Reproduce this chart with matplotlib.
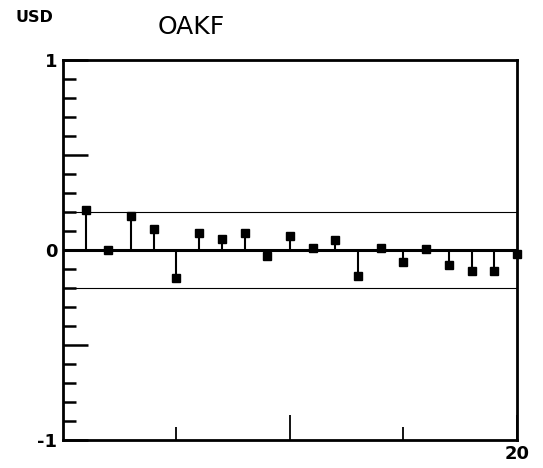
import numpy as np
import matplotlib
matplotlib.use("Agg")
from matplotlib import pyplot as plt

# autocorrelation at lags 1..20
lags = list(range(1, 21))
acf = [0.21, 0.0, 0.18, 0.11, -0.15, 0.09, 0.06, 0.09, -0.03, 0.075,
       0.01, 0.05, -0.135, 0.01, -0.065, 0.005, -0.08, -0.11, -0.11, -0.02]
band = 0.2
title = "OAKF"
corner_label = "USD"


def draw_acf(save_path):
    fig = plt.figure(figsize=(5.43, 4.68), dpi=100)
    ax = fig.add_axes([0.116, 0.060, 0.836, 0.812])

    ax.axhline(band, color="black", lw=0.8, zorder=1)
    ax.axhline(-band, color="black", lw=0.8, zorder=1)
    ax.axhline(0, color="black", lw=2.2, zorder=2)
    ax.vlines(lags, 0, acf, color="black", lw=1.5, zorder=3)
    ax.plot(lags, acf, "s", color="black", ms=6, zorder=4, clip_on=False)

    ax.set_xlim(0, 20)
    ax.set_ylim(-1, 1)

    ax.set_yticks([-1, -0.5, 0, 0.5, 1])
    ax.set_yticklabels(["-1", "", "0", "", "1"], fontweight="bold", fontsize=13)
    ax.set_yticks([v / 10 for v in range(-9, 10) if v not in (-5, 0, 5)], minor=True)
    ax.tick_params(axis="y", which="major", direction="in", length=18, width=1.8, pad=4)
    ax.tick_params(axis="y", which="minor", direction="in", length=9.5, width=1.8)

    ax.set_xticks([10, 20])
    ax.set_xticklabels(["", "20"], fontweight="bold", fontsize=13)
    ax.set_xticks([5, 15], minor=True)
    ax.tick_params(axis="x", which="major", direction="in", length=18, width=1.3, pad=4)
    ax.tick_params(axis="x", which="minor", direction="in", length=9.5, width=1.3)

    for side in ax.spines.values():
        side.set_linewidth(2)

    fig.text(0.028, 0.962, corner_label, fontsize=11.5, fontweight="bold", va="center")
    fig.text(0.352, 0.942, title, fontsize=18, va="center", ha="center")

    fig.savefig(save_path, dpi=100)
    plt.close(fig)


draw_acf("out.png")
